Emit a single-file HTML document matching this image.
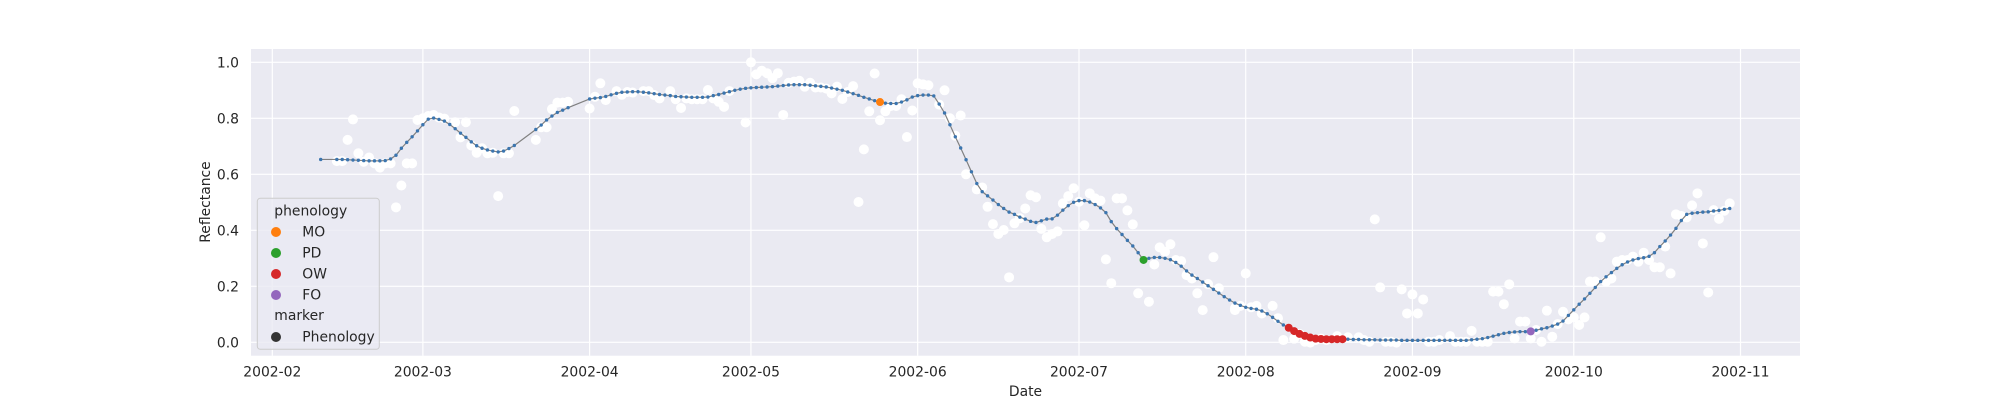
<!DOCTYPE html>
<html><head><meta charset="utf-8"><style>
html,body{margin:0;padding:0;background:#fff;}
svg{display:block;font-family:"DejaVu Sans","Liberation Sans",sans-serif;}
</style></head><body>
<svg id="chart" width="2000" height="400" viewBox="0 0 2000 400" xmlns="http://www.w3.org/2000/svg">
<rect x="251" y="49" width="1549" height="306.7" fill="#eaeaf2"/>
<g id="grid"></g>
<g id="ticks"></g>
<g id="obs"></g>
<g id="smooth"></g>
<g id="pheno"></g>
<text x="1025.5" y="396" font-size="13.9" fill="#262626" text-anchor="middle">Date</text>
<text x="0" y="0" transform="translate(210,202) rotate(-90)" font-size="13.9" fill="#262626" text-anchor="middle">Reflectance</text>
<g>
<rect x="257.3" y="198.3" width="122" height="151" rx="3" fill="#eaeaf2" fill-opacity="0.8" stroke="#cccccc" stroke-width="1"/>
<text x="274.3" y="215.5" font-size="13.9" fill="#262626">phenology</text>
<circle cx="276" cy="232" r="5" fill="#ff7f0e"/>
<text x="302.3" y="236.5" font-size="13.9" fill="#262626">MO</text>
<circle cx="276" cy="253" r="5" fill="#2ca02c"/>
<text x="302.3" y="257.5" font-size="13.9" fill="#262626">PD</text>
<circle cx="276" cy="274" r="5" fill="#d62728"/>
<text x="302.3" y="278.5" font-size="13.9" fill="#262626">OW</text>
<circle cx="276" cy="295" r="5" fill="#9467bd"/>
<text x="302.3" y="299.5" font-size="13.9" fill="#262626">FO</text>
<text x="274.3" y="320" font-size="13.9" fill="#262626">marker</text>
<circle cx="276" cy="337" r="5" fill="#333333"/>
<text x="302.3" y="341.5" font-size="13.9" fill="#262626">Phenology</text>
</g>
</svg>
<script>
// days since 2002-02-01
const xTickDays = [0,28,59,89,120,150,181,212,242,273];
const xTickLabels = ["2002-02","2002-03","2002-04","2002-05","2002-06","2002-07","2002-08","2002-09","2002-10","2002-11"];
const yTicks = [0,0.2,0.4,0.6,0.8,1.0];
const yTickLabels = ["0.0","0.2","0.4","0.6","0.8","1.0"];

const lineDays = [9,12,13,14,15,16,17,18,19,20,21,22,23,24,25,26,27,28,29,30,31,32,33,34,35,36,37,38,39,40,41,42,43,44,45,
49,50,51,52,53,54,55,
59,60,61,62,63,64,65,66,67,68,69,70,71,72,73,74,75,76,77,78,79,80,81,82,83,84,85,86,87,88,89,90,91,92,93,94,95,96,97,98,99,100,
101,102,103,104,105,106,107,108,109,110,111,112,113,114,115,116,117,118,119,120,121,122,123,124,125,126,127,128,129,130,
131,132,133,134,135,136,137,138,139,140,141,142,143,144,145,146,147,148,149,150,151,152,153,154,155,156,157,158,159,160,
161,162,163,164,165,166,167,168,169,170,171,172,173,174,175,176,177,178,179,180,181,182,183,184,185,186,187,188,189,190,
191,192,193,194,195,196,197,198,199,200,201,202,203,204,205,206,207,208,209,210,211,212,213,214,215,216,217,218,219,220,
221,222,223,224,225,226,227,228,229,230,231,232,233,234,235,236,237,238,239,240,241,242,243,244,245,246,247,248,249,250,
251,252,253,254,255,256,257,258,259,260,261,262,263,264,265,266,267,268,269,270,271];
const lineVals = [0.653,0.653,0.653,0.652,0.651,0.650,0.649,0.648,0.648,0.648,0.649,0.655,0.668,0.693,0.714,0.734,0.755,0.777,0.797,0.801,0.796,0.790,0.778,0.763,0.747,0.732,0.716,0.702,0.693,0.687,0.683,0.680,0.683,0.692,0.703,
0.760,0.776,0.794,0.808,0.821,0.829,0.838,
0.869,0.872,0.874,0.878,0.884,0.889,0.893,0.894,0.895,0.895,0.893,0.891,0.888,0.885,0.883,0.881,0.878,0.877,0.876,0.875,0.875,0.875,0.876,0.881,0.885,0.890,0.895,0.900,0.904,0.907,0.909,0.910,0.911,0.912,0.913,0.915,0.917,0.919,0.920,0.920,0.920,0.918,
0.916,0.914,0.912,0.908,0.904,0.900,0.894,0.888,0.882,0.875,0.869,0.863,0.858,0.854,0.853,0.853,0.858,0.866,0.876,0.881,0.883,0.883,0.880,0.851,0.819,0.777,0.734,0.694,0.652,0.609,
0.567,0.538,0.523,0.508,0.492,0.478,0.465,0.457,0.447,0.440,0.432,0.428,0.434,0.440,0.441,0.454,0.472,0.488,0.500,0.506,0.506,0.501,0.492,0.480,0.463,0.431,0.406,0.385,0.364,0.344,
0.320,0.294,0.300,0.303,0.303,0.300,0.295,0.285,0.272,0.255,0.240,0.228,0.215,0.202,0.189,0.176,0.163,0.151,0.140,0.132,0.125,0.121,0.118,0.112,0.102,0.089,0.075,0.062,0.052,0.040,
0.030,0.023,0.017,0.013,0.012,0.011,0.011,0.011,0.011,0.011,0.010,0.010,0.009,0.009,0.009,0.008,0.008,0.008,0.008,0.007,0.007,0.007,0.007,0.007,0.007,0.007,0.007,0.007,0.007,0.007,
0.007,0.007,0.009,0.011,0.013,0.017,0.022,0.027,0.032,0.035,0.037,0.038,0.038,0.039,0.043,0.048,0.052,0.058,0.065,0.076,0.096,0.116,0.136,0.155,0.175,0.196,0.217,0.234,0.249,0.264,
0.277,0.287,0.294,0.299,0.302,0.307,0.320,0.342,0.362,0.383,0.407,0.435,0.457,0.461,0.463,0.465,0.466,0.469,0.471,0.475,0.478];

const obsDays = [12,13,14,15,16,17,18,19,20,21,22,23,24,25,26,27,28,29,30,31,32,34,36,35,37,38,39,40,41,42,43,44,45,49,50,51,52,53,54,55,59,60,61,62,64,65,66,67,
69,70,71,72,74,75,76,77,78,79,80,81,82,83,84,85,88,89,90,91,92,93,94,95,96,97,98,99,100,101,102,103,104,105,106,107,108,109,110,111,112,113,114,115,116,117,118,119,120,121,122,124,125,126,127,128,129,131,132,133,134,135,136,137,138,139,140,141,142,143,144,145,146,147,148,149,151,152,153,
150,154,155,156,157,158,159,160,161,163,164,165,166,167,168,169,170,171,172,173,174,175,176,179,180,181,182,183,186,205,206,210,212,214,
179,184,187,188,190,191,192,193,194,195,196,198,200,202,203,204,207,208,209,211,213,215,216,217,219,220,221,222,223,224,225,226,227,228,229,230,231,232,233,234,235,236,237,238,239,240,241,242,243,244,245,246,247,248,249,250,251,252,253,254,255,256,257,258,259,260,261,262,263,264,265,266,267,268,269,270,271];
const obsVals = [0.647,0.647,0.723,0.796,0.675,0.645,0.660,0.639,0.624,0.639,0.639,0.482,0.560,0.639,0.639,0.794,0.800,0.808,0.812,0.803,0.799,0.786,0.786,0.732,0.703,0.677,0.693,0.675,0.677,0.522,0.675,0.675,0.826,0.723,0.768,0.768,0.833,0.856,0.856,0.859,0.835,0.877,0.925,0.865,0.897,0.884,0.894,0.892,
0.897,0.897,0.883,0.871,0.897,0.868,0.837,0.871,0.868,0.868,0.868,0.901,0.871,0.859,0.841,0.897,0.785,1.000,0.957,0.970,0.961,0.943,0.961,0.812,0.927,0.931,0.934,0.913,0.927,0.910,0.910,0.906,0.889,0.913,0.869,0.894,0.915,0.501,0.689,0.825,0.960,0.793,0.825,0.844,0.844,0.868,0.733,0.828,0.925,0.921,0.918,0.849,0.900,0.800,0.738,0.810,0.600,0.546,0.553,0.484,0.422,0.387,0.401,0.232,0.425,0.443,0.478,0.525,0.518,0.405,0.375,0.387,0.396,0.496,0.522,0.550,0.418,0.532,0.514,
0.502,0.506,0.296,0.211,0.514,0.514,0.471,0.421,0.175,0.145,0.278,0.339,0.324,0.350,0.294,0.290,0.240,0.228,0.175,0.115,0.208,0.304,0.193,0.122,0.130,0.246,0.125,0.130,0.130,0.439,0.196,0.189,0.171,0.153,
0.115,0.103,0.086,0.008,0.013,0.030,0.002,-0.001,0.008,0.013,0.008,0.022,0.018,0.018,0.008,0.002,0.002,0.002,-0.001,0.103,0.103,0.002,0.002,0.008,0.022,0.002,0.002,0.002,0.041,0.002,0.002,0.002,0.181,0.181,0.136,0.207,0.014,0.074,0.074,0.014,0.044,0.002,0.113,0.020,0.065,0.109,0.082,0.089,0.062,0.089,0.217,0.217,0.375,0.217,0.228,0.288,0.294,0.294,0.306,0.288,0.320,0.294,0.268,0.268,0.342,0.246,0.457,0.451,0.446,0.489,0.532,0.353,0.178,0.472,0.441,0.470,0.496];

const phenoDays = [113,162,189,190,191,192,193,194,195,196,197,198,199,234];
const phenoLabels = ["MO","PD","OW","OW","OW","OW","OW","OW","OW","OW","OW","OW","OW","FO"];
const phenoColors = {MO:"#ff7f0e",PD:"#2ca02c",OW:"#d62728",FO:"#9467bd"};

const NS = "http://www.w3.org/2000/svg";
const PL = 251, PR = 1800, PT = 49, PB = 355.7;
function xScale(d){ return 272.3 + d * 5.378; }
function yScale(v){ return 342.3 - v * 280; }
function mk(tag, attrs, parent){
  const e = document.createElementNS(NS, tag);
  for (const k in attrs) e.setAttribute(k, attrs[k]);
  parent.appendChild(e);
  return e;
}
const grid = document.getElementById('grid');
const ticks = document.getElementById('ticks');
xTickDays.forEach((d, i) => {
  const x = xScale(d);
  if (x >= PL && x <= PR) {
    const l = mk('line', {x1:x, x2:x, y1:PT, y2:PB, stroke:'#ffffff', 'stroke-width':1.2}, grid);
    
    
  }
  const t = mk('text', {x:x, y:376.5, 'font-size':13.9, fill:'#262626', 'text-anchor':'middle'}, ticks);
  t.textContent = xTickLabels[i];
  
  
});
yTicks.forEach((v, i) => {
  const y = yScale(v);
  const l = mk('line', {x1:PL, x2:PR, y1:y, y2:y, stroke:'#ffffff', 'stroke-width':1.2}, grid);
  
  
  const t = mk('text', {x:239, y:y + 5, 'font-size':13.9, fill:'#262626', 'text-anchor':'end'}, ticks);
  t.textContent = yTickLabels[i];
  
  
});
const obs = document.getElementById('obs');
obsDays.forEach((d, i) => {
  const c = mk('circle', {cx:xScale(d), cy:yScale(obsVals[i]), r:5, fill:'#ffffff'}, obs);
  
  
});
const smooth = document.getElementById('smooth');
const pts = lineDays.map((d, i) => xScale(d).toFixed(2) + ',' + yScale(lineVals[i]).toFixed(2)).join(' ');
const pl = mk('polyline', {points:pts, fill:'none', stroke:'#808080', 'stroke-width':1.2}, smooth);


lineDays.forEach((d, i) => {
  const c = mk('circle', {cx:xScale(d), cy:yScale(lineVals[i]), r:1.7, fill:'#3b75af'}, smooth);
  
  
});
const pheno = document.getElementById('pheno');
phenoDays.forEach((d, i) => {
  const idx = lineDays.indexOf(d);
  const v = idx >= 0 ? lineVals[idx] : 0;
  const c = mk('circle', {cx:xScale(d), cy:yScale(v), r:4, fill:phenoColors[phenoLabels[i]]}, pheno);
  
  
});
</script>
</body></html>
